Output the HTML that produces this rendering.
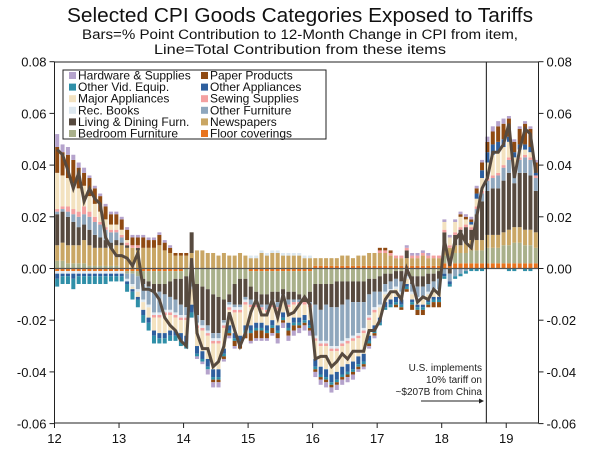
<!DOCTYPE html>
<html><head><meta charset="utf-8"><style>
body{margin:0;background:#fff;}
svg{display:block;font-family:"Liberation Sans",sans-serif;}
</style></head><body>
<svg id="chart" width="600" height="454" viewBox="0 0 600 454">
<text x="300" y="22" text-anchor="middle" font-size="20" fill="#111" textLength="466" lengthAdjust="spacingAndGlyphs">Selected CPI Goods Categories Exposed to Tariffs</text>
<text x="300" y="39" text-anchor="middle" font-size="13.5" fill="#111" textLength="436" lengthAdjust="spacingAndGlyphs">Bars=% Point Contribution to 12-Month Change in CPI from item,</text>
<text x="300" y="54" text-anchor="middle" font-size="13.5" fill="#111" textLength="292" lengthAdjust="spacingAndGlyphs">Line=Total Contribution from these items</text>
<g id="bars"></g>
<g id="axes"></g>
<g id="legend"></g>
<g>
<text x="482" y="371" text-anchor="end" font-size="10" fill="#222">U.S. implements</text>
<text x="482" y="383" text-anchor="end" font-size="10" fill="#222">10% tariff on</text>
<text x="482" y="395" text-anchor="end" font-size="10" fill="#222">~$207B from China</text>
<line x1="421" y1="401" x2="480" y2="401" stroke="#222" stroke-width="1"/>
<polygon points="484,401 479,398.5 479,403.5" fill="#222"/>
</g>
</svg>
<script>
const startYear = 12;
const yearLabels = ["12","13","14","15","16","17","18","19"];
const yTicks = [0.08,0.06,0.04,0.02,0.00,-0.02,-0.04,-0.06];
const yTickLabels = ["0.08","0.06","0.04","0.02","0.00","-0.02","-0.04","-0.06"];
const tariffMonthIndex = 80.3;
const seriesNames = ["Floor coverings","Bedroom Furniture","Newspapers","Living & Dining Furn.","Other Furniture","Rec. Books","Sewing Supplies","Major Appliances","Other Appliances","Other Vid. Equip.","Paper Products","Hardware & Supplies"];
const seriesColors = ["#e8731e","#a9b08a","#c9a664","#574a3f","#8fa7bd","#dde8f0","#f4a0a0","#f3e2c0","#2e5f9e","#2f8fa8","#8f4a12","#b5a3cc"];
// values in thousandths of a percentage point (x0.001)
const floorCoverings = [-1,-1,-1,-1,-1,-1,-1,-1,-1,-1,-1,-1, -1,-1,-1,-1,-1,-1,-1,-1,-1,-1,-1,-1, 0,0,0,0,0,0,0,0,0,0,0,0, -1,-1,-1,-1,-1,-1,-1,-1,-1,-1,-1,-1, 1,1,1,1,1,1,1,1,1,1,1,1, 1,1,1,1,1,1,1,1,1,1,1,1, 2,2,2,2,2,2,2,2,2,2,2,2, 2,2,2,2,2,2];
const bedroomFurniture = [3,3,2,2,2,2,1,1,1,1,1,1, 0,-1,-1,-2,-3,-4,-5,-5,-5,-4,-3,-3, -3,-4,-6,-7,-8,-10,-11,-12,-10,-6,-4,-4, -6,-8,-9,-9,-8,-8,-7,-8,-8,-9,-10,-8, -6,-6,-6,-6,-5,-5,-5,-5,-5,-5,-4,-4, -3,-2,-2,-1,-1,0,-3,-3,-3,-2,-2,-1, 3,3,4,4,4,5,5,5,6,6,6,7, 7,8,8,7,7,6];
const newspapers = [6,7,7,7,7,9,8,7,7,7,7,8, 9,8,8,7,8,8,8,9,7,6,5,5, 5,6,7,7,6,6,5,6,5,5,6,5, 4,4,6,5,6,6,5,5,5,5,4,4, 3,3,3,3,3,4,4,3,4,4,5,5, 5,5,4,3,3,3,3,3,4,3,3,3, 3,3,3,3,4,4,4,4,5,5,5,5, 6,6,6,6,6,6];
const livingDining = [12,12,11,9,7,6,6,5,4,3,2,2, 1,1,0,1,-2,-2,-3,-3,-4,-6,-8,-10, -12,8,-12,-13,-14,-15,-14,-8,-3,-8,-10,-7, -5,-3,-4,-4,-3,-4,-2,-3,-3,-2,-2,-4, -8,-10,-8,-9,-10,-9,-7,-8,-8,-8,-6,-5, -6,-4,-3,-3,-4,3,-3,-4,-4,-4,-3,-3, 6,-2,4,6,6,4,10,15,17,18,18,20, 22,17,21,22,21,16];
const otherFurniture = [1,1,2,3,4,4,5,5,5,4,4,3, 2,-2,-4,-5,-6,-7,-8,-8,-6,-5,-5,-4, -3,-3,-3,-2,-2,-2,-2,-1,-1,-1,-1,-1, -2,-2,-1,-2,-2,-2,-1,-2,-1,-1,0,-1, -12,-12,-14,-15,-15,-14,-15,-13,-12,-10,-8,-6, -5,-3,-3,-3,-4,-3,-3,-4,-4,-3,-3,-4, -2,-3,-3,-2,-1,0,2,3,4,4,5,5, 5,4,5,6,6,5];
const recBooks = [-1,-1,-1,-1,-1,-1,-1,-1,-1,-1,-1,-1, -1,-1,-1,-1,-1,-1,-1,-1,-1,-1,-1,-1, -1,-1,-1,-1,-1,-1,-1,-1,-1,-1,-1,-1, 1,1,1,1,1,1,1,1,1,1,1,1, -1,-1,-1,-1,-1,-1,-1,-1,-1,-1,-1,-1, -1,-1,-1,-1,-1,-1,-1,-1,-1,-1,-1,-1, 0,0,0,0,0,0,0,0,0,0,0,0, 0,0,0,0,0,0];
const sewingSupplies = [1,1,2,2,2,3,2,2,1,1,1,1, 1,1,1,1,0,0,-1,-1,-1,-1,-1,-1, -1,0,-1,-1,-1,-1,-1,-1,-1,-1,-1,-1, -1,-1,-1,-1,-1,-1,-1,-1,-1,-1,-1,-1, -1,-1,-1,-1,-1,-1,-1,-1,-1,-1,-1,-1, 1,1,1,1,1,1,1,1,1,1,1,1, 1,1,1,1,1,1,1,1,1,1,1,1, 1,1,1,1,1,1];
const majorAppliances = [14,12,11,10,9,8,6,5,4,3,2,2, 2,1,-1,-2,-3,-4,-5,-6,-7,-6,-5,-5, -6,-6,-7,-8,-9,-10,-10,-8,-6,-8,-9,-8, -7,-6,-5,-5,-5,-6,-5,-6,-5,-5,-4,-5, -7,-8,-9,-9,-8,-8,-8,-8,-7,-8,-6,-5, -4,-3,-3,-3,-2,-2,-2,-2,-2,-2,-2,-2, 3,3,4,4,2,1,3,5,6,8,8,7, 6,5,3,2,2,0];
const otherAppliances = [-2,-1,-1,-2,-1,-1,-1,-1,-1,-1,-1,-1, -1,-1,-1,-1,-2,-2,-2,-2,-2,-2,-2,-3, -3,-3,-3,-3,-3,-3,-3,-2,-2,-2,-2,-2, -2,-2,-2,-2,-2,-2,-2,-2,-2,-2,-2,-2, -3,-3,-3,-3,-3,-3,-3,-3,-3,-3,-2,-2, -2,-2,-2,-2,-2,-1,-1,-1,-1,-1,-1,-1, -1,-1,0,0,0,1,2,3,4,4,4,3, 2,2,2,2,2,1];
const otherVidEquip = [-3,-3,-3,-4,-3,-3,-3,-3,-3,-3,-2,-2, -2,-3,-3,-3,-3,-3,-3,-2,-2,-2,-2,-2, -2,-2,-1,-1,-1,-1,-1,-1,-1,-1,-1,-1, -1,-1,-1,-1,-1,-1,-1,-1,-1,-1,-1,-1, -1,-1,-1,-1,-1,-1,-1,-1,-1,-1,-1,-1, -1,-1,-1,-1,-1,-1,-1,-1,-1,-1,-1,-1, -1,-1,-1,-1,-1,-1,-1,-1,0,0,0,0, -1,-1,0,-1,-1,0];
const paperProducts = [10,9,9,9,8,5,7,6,6,5,4,4, 4,4,3,3,4,3,3,4,3,2,1,1, 1,0,0,0,0,-1,-1,-1,-1,-2,-2,-2, -3,-3,-3,-2,-2,-2,-1,-2,-2,-1,-1,-1, -1,-1,-1,-1,-1,-1,-1,-1,-1,-1,-1,-1, 1,1,1,-1,-1,-1,-2,-2,-2,-1,-2,-2, 0,0,0,1,1,1,2,3,4,5,6,6, 7,4,6,8,7,4];
const hardwareSupplies = [5,3,3,2,2,2,1,1,1,1,1,1, 1,1,1,1,1,1,1,1,1,1,0,0, 0,0,-1,-1,-2,-2,-2,-1,-1,-1,0,0, -1,-1,-1,-1,-1,-2,-2,-2,-2,-2,-2,-2, -2,-2,-2,-2,-2,-2,-2,-2,-1,-1,-1,-1, 0,0,0,0,0,1,1,1,1,1,0,0, 1,1,1,1,1,1,1,1,2,2,2,2, 1,1,1,1,1,1];
const totalLine = [46,44,38,31,37,26,31,27,25,12,8,5, 5,4,1,6,-8,-8,-9,-12,-19,-22,-24,-28, -30,4,-25,-31,-31,-38,-36,-30,-17,-24,-30,-25, -17,-12,-18,-18,-12,-19,-10,-18,-17,-14,-11,-14, -35,-34,-34,-38,-36,-33,-35,-32,-32,-32,-24,-24, -20,-12,-9,-9,-12,0,-5,-13,-11,-12,-8,-10, 11,1,11,14,10,8,20,31,35,45,45,48, 56,35,46,54,52,37];
const seriesData = [floorCoverings,bedroomFurniture,newspapers,livingDining,otherFurniture,recBooks,sewingSupplies,majorAppliances,otherAppliances,otherVidEquip,paperProducts,hardwareSupplies];

const NS="http://www.w3.org/2000/svg";
const L=54.5,R=538.5,T=62,B=423;
const nMonths=90;
const monthW=(R-L)/nMonths;
function xMonth(i){return L+monthW*(i+0.5);}
function xEdge(m){return L+monthW*m;}
function yVal(v){return 268.5-(v/0.02)*51.7;}
function mk(tag,attrs,parent){const e=document.createElementNS(NS,tag);for(const k in attrs)e.setAttribute(k,attrs[k]);parent.appendChild(e);return e;}

const barsG=document.getElementById('bars');
for(let i=0;i<nMonths;i++){
  let pos=0,neg=0;
  for(let s=0;s<seriesData.length;s++){
    const v=seriesData[s][i]/1000;
    if(!v)continue;
    let y0,y1;
    if(v>0){y0=pos;y1=pos+v;pos=y1;}else{y0=neg;y1=neg+v;neg=y1;}
    const r=mk('rect',{x:xMonth(i)-2,width:4,y:Math.min(yVal(y0),yVal(y1)),height:Math.abs(yVal(y0)-yVal(y1)),fill:seriesColors[s]},barsG);
    
    
  }
}
const ax=document.getElementById('axes');
const zl=mk('line',{x1:L,x2:R,y1:yVal(0),y2:yVal(0),stroke:'#555','stroke-width':1.2},ax);


const vl=mk('line',{x1:xEdge(tariffMonthIndex),x2:xEdge(tariffMonthIndex),y1:T,y2:B,stroke:'#111','stroke-width':1},ax);


let pts=totalLine.map((v,i)=>xMonth(i).toFixed(1)+','+yVal(v/1000).toFixed(1)).join(' ');
const pl=mk('polyline',{points:pts,fill:'none',stroke:'#574a3f','stroke-width':3,'stroke-linejoin':'miter'},ax);


const frame=mk('rect',{x:L,y:T,width:R-L,height:B-T,fill:'none',stroke:'#222','stroke-width':1},ax);


yTicks.forEach((v,k)=>{
  const y=yVal(v);
  const t1=mk('line',{x1:L-5,x2:L,y1:y,y2:y,stroke:'#222'},ax);
  
  
  const t2=mk('line',{x1:R,x2:R+5,y1:y,y2:y,stroke:'#222'},ax);
  
  
  const a=mk('text',{x:L-8,y:y+5,'text-anchor':'end','font-size':13,fill:'#111'},ax);
  a.textContent=yTickLabels[k];
  
  
  const b=mk('text',{x:R+8,y:y+5,'text-anchor':'start','font-size':13,fill:'#111'},ax);
  b.textContent=yTickLabels[k];
  
  
});
yearLabels.forEach((lab,k)=>{
  const x=xEdge(k*12);
  const t=mk('line',{x1:x,x2:x,y1:B,y2:B+5,stroke:'#222'},ax);
  
  
  const tx=mk('text',{x:x,y:B+20,'text-anchor':'middle','font-size':13,fill:'#111'},ax);
  tx.textContent=lab;
  
  
});
const lg=document.getElementById('legend');
const box=mk('rect',{x:63,y:70,width:263,height:69,fill:'#fff',stroke:'#222','stroke-width':1},lg);


const legendOrder=[11,10,9,8,7,6,5,4,3,2,1,0];
legendOrder.forEach((s,k)=>{
  const col=k%2,row=Math.floor(k/2);
  const x=col?201:69,y=76+row*11.6;
  const sw=mk('rect',{x:x,y:y-4,width:7,height:7,fill:seriesColors[s]},lg);
  
  
  const t=mk('text',{x:x+9,y:y+3.5,'font-size':12,fill:'#111'},lg);
  t.textContent=seriesNames[s];
  
  
});
</script>
</body></html>
